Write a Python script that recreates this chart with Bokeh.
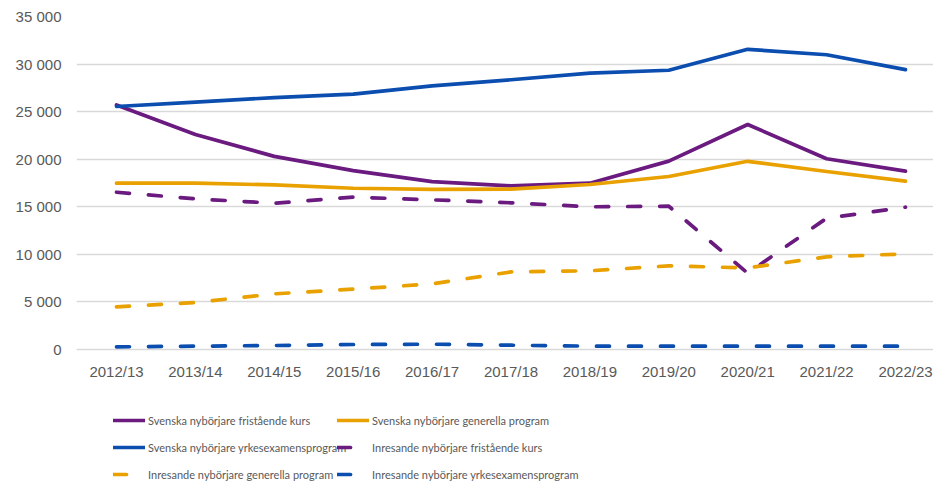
from bokeh.plotting import figure
from bokeh.models import Legend, LegendItem, FixedTicker, Range1d
from bokeh.embed import file_html
from bokeh.resources import INLINE

years = ["2012/13", "2013/14", "2014/15", "2015/16", "2016/17", "2017/18",
         "2018/19", "2019/20", "2020/21", "2021/22", "2022/23"]

sv_fristaende = [25700, 22600, 20300, 18800, 17650, 17200, 17480, 19800, 23650, 20050, 18750]
sv_generella = [17480, 17480, 17300, 16950, 16820, 16850, 17340, 18180, 19780, 18710, 17690]
sv_yrkes = [25540, 26000, 26480, 26850, 27700, 28350, 29050, 29350, 31550, 30980, 29420]
in_fristaende = [16530, 15830, 15380, 16010, 15730, 15420, 15000, 15060, 8020, 13800, 14960]
in_generella = [4490, 4940, 5850, 6340, 6900, 8160, 8270, 8790, 8580, 9740, 10050]
in_yrkes = [280, 350, 420, 525, 560, 450, 350, 350, 350, 350, 350]

series_names = [
    "Svenska nybörjare fristående kurs",
    "Svenska nybörjare generella program",
    "Svenska nybörjare yrkesexamensprogram",
    "Inresande nybörjare fristående kurs",
    "Inresande nybörjare generella program",
    "Inresande nybörjare yrkesexamensprogram",
]

y_ticks = [0, 5000, 10000, 15000, 20000, 25000, 30000, 35000]
y_tick_labels = ["0", "5 000", "10 000", "15 000", "20 000", "25 000", "30 000", "35 000"]

PURPLE = "#6B1A80"
ORANGE = "#E9A100"
BLUE = "#0B4EAF"
GRAY = "#595959"

xs = list(range(len(years)))

p = figure(width=933, height=482, output_backend="svg", toolbar_location=None,
           x_range=Range1d(-0.507, 10.355), y_range=Range1d(-13979, 35000),
           min_border_left=76, min_border_right=0, min_border_top=16, min_border_bottom=0)
p.outline_line_color = None
p.background_fill_color = "white"

# axes
p.xaxis.fixed_location = 0
p.xaxis.ticker = FixedTicker(ticks=xs)
p.xaxis.major_label_overrides = {i: y for i, y in enumerate(years)}
p.yaxis.ticker = FixedTicker(ticks=y_ticks)
p.yaxis.major_label_overrides = {t: l for t, l in zip(y_ticks, y_tick_labels)}
for ax in (p.xaxis[0], p.yaxis[0]):
    ax.axis_line_color = None
    ax.major_tick_line_color = None
    ax.minor_tick_line_color = None
    ax.major_tick_out = 0
    ax.major_tick_in = 0
    ax.major_label_text_font = "Liberation Sans"
    ax.major_label_text_font_size = "15px"
    ax.major_label_text_color = GRAY
p.xaxis.major_label_standoff = 14
p.yaxis.major_label_standoff = 15
p.xgrid.grid_line_color = None
p.ygrid.grid_line_color = "#D9D9D9"
p.ygrid.grid_line_width = 1.3

styles = [
    (sv_fristaende, PURPLE, "solid"),
    (sv_generella, ORANGE, "solid"),
    (sv_yrkes, BLUE, "solid"),
    (in_fristaende, PURPLE, "13 19"),
    (in_generella, ORANGE, "13 19"),
    (in_yrkes, BLUE, "13 19"),
]

renderers = []
for vals, color, dash in styles:
    r = p.line(xs, vals, line_color=color, line_width=3.7, line_dash=dash,
               line_cap="round", line_join="round")
    renderers.append(r)

def make_legend(idx, vx):
    items = [LegendItem(label=series_names[i], renderers=[renderers[i]]) for i in idx]
    return Legend(items=items, location=(vx, 0), orientation="vertical",
                  glyph_width=32, glyph_height=16, label_height=16, spacing=11,
                  label_standoff=3, padding=0, margin=0,
                  border_line_color=None, background_fill_alpha=0,
                  label_text_font="Lato", label_text_font_size="11px",
                  label_text_color=GRAY)

p.add_layout(make_legend([0, 2, 4], 37), "center")
p.add_layout(make_legend([1, 3, 5], 261), "center")

open("out.html", "w").write(file_html(p, INLINE))
